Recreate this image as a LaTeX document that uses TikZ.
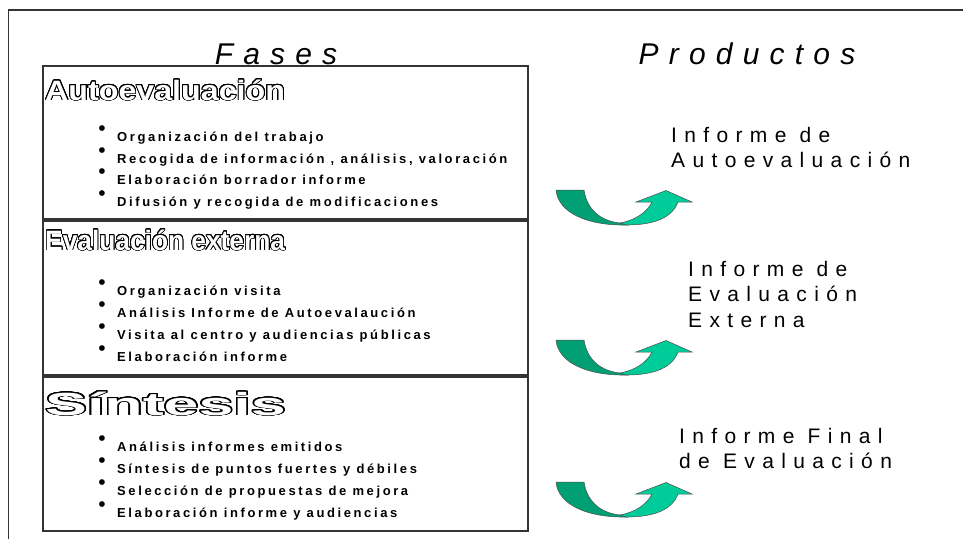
\documentclass[tikz,border=0pt]{standalone}
\usepackage{fontspec}
\usepackage{graphicx}
\usepackage{contour}
\setmainfont{Liberation Sans}
\newfontfamily\headfont[LetterSpace=34]{Liberation Sans}
\newfontfamily\itemfont[LetterSpace=20]{Liberation Sans}
\newfontfamily\prodfont[LetterSpace=35]{Liberation Sans}
\newfontfamily\phasefont{Liberation Sans}
\contournumber{32}
\contourlength{0.8pt}
\definecolor{darkturn}{RGB}{0,160,116}
\definecolor{lightturn}{RGB}{0,204,153}
\definecolor{rulegray}{RGB}{51,51,51}
\newcommand{\bul}{\llap{\raisebox{6pt}{\normalfont\fontsize{21}{21}\selectfont •}\hspace{11.5pt}}}
\newcommand{\hollow}[2]{\scalebox{#1}[1]{\textcolor{white}{\contour{black}{#2}}}}

\begin{document}
\begin{tikzpicture}[x=1pt, y=-1pt,
    frameline/.style={draw=rulegray, line width=1.3pt},
    phasebox/.style={draw=rulegray, line width=1.2pt},
    heading/.style={font=\headfont\itshape\fontsize{30}{30}\selectfont, anchor=base, inner sep=0pt},
    phase/.style={font=\phasefont\bfseries\fontsize{28}{28}\selectfont, anchor=base west, inner sep=0pt},
    item/.style={font=\itemfont\bfseries\fontsize{13}{13}\selectfont, anchor=base west, inner sep=0pt},
    product/.style={font=\prodfont\fontsize{21}{25.5}\selectfont, align=left, anchor=north west, inner sep=0pt},
    turn/.style={draw=black!70, line width=0.5pt}]
  \useasboundingbox (0,0) rectangle (963,539);

  % marco
  \draw[frameline] (8.5,539) -- (8.5,10) -- (963,10);

  \node[heading] (fases) at (276,64) {Fases};
  \node[heading] (productos) at (747,64) {Productos};

  % fases
  \draw[phasebox] (43,66) rectangle (528,219);
  \draw[phasebox] (43,221) rectangle (528,375);
  \draw[phasebox] (43,377) rectangle (528,531);

  \node[phase] (autotitle) at (45,100) {\hollow{1.15}{Autoevaluación}};
  \node[phase] (exttitle) at (45,250) {\hollow{0.94}{Evaluación externa}};
  \node[phase, font=\phasefont\bfseries\fontsize{32}{32}\selectfont] (sinttitle) at (45,415) {\hollow{1.96}{Síntesis}};

  \foreach \txt [count=\i] in {Organización del trabajo, {Recogida de información , análisis,  valoración},
      Elaboración borrador informe, Difusión y recogida de modificaciones}
    \node[item] (auto\i) at (117,141.7+21.5*\i-21.5) {\bul\txt};
  \foreach \txt [count=\i] in {Organización visita, Análisis Informe de Autoevalaución,
      Visita al centro y audiencias públicas, Elaboración informe}
    \node[item] (ext\i) at (117,295+22.3*\i-22.3) {\bul\txt};
  \foreach \txt [count=\i] in {Análisis informes emitidos, Síntesis de puntos fuertes y débiles,
      Selección de propuestas de mejora, Elaboración informe y audiencias}
    \node[item] (sint\i) at (117,451+22.2*\i-22.2) {\bul\txt};

  % productos
  \node[product] (prodauto) at (671,127) {Informe de\\Autoevaluación};
  \node[product] (prodext) at (688,261) {Informe de\\Evaluación\\Externa};
  \node[product] (prodfinal) at (679,428) {Informe Final\\de Evaluación};

  % flechas
  \foreach \y in {190,340,482}{
    \begin{scope}[shift={(556,\y)}]
      \filldraw[turn, fill=darkturn] (0,0) -- (28,0) .. controls (31,20) and (45,31) .. (64,33)
        -- (72,35) .. controls (30,36) and (2,22) .. (0,0) -- cycle;
      \filldraw[turn, fill=lightturn] (64,33) .. controls (80,30) and (91,22) .. (96,12)
        -- (80,12) -- (110,0.5) -- (136,12) -- (122,12)
        .. controls (116,28) and (98,35) .. (70,35) -- cycle;
    \end{scope}
  }
\end{tikzpicture}
\end{document}
